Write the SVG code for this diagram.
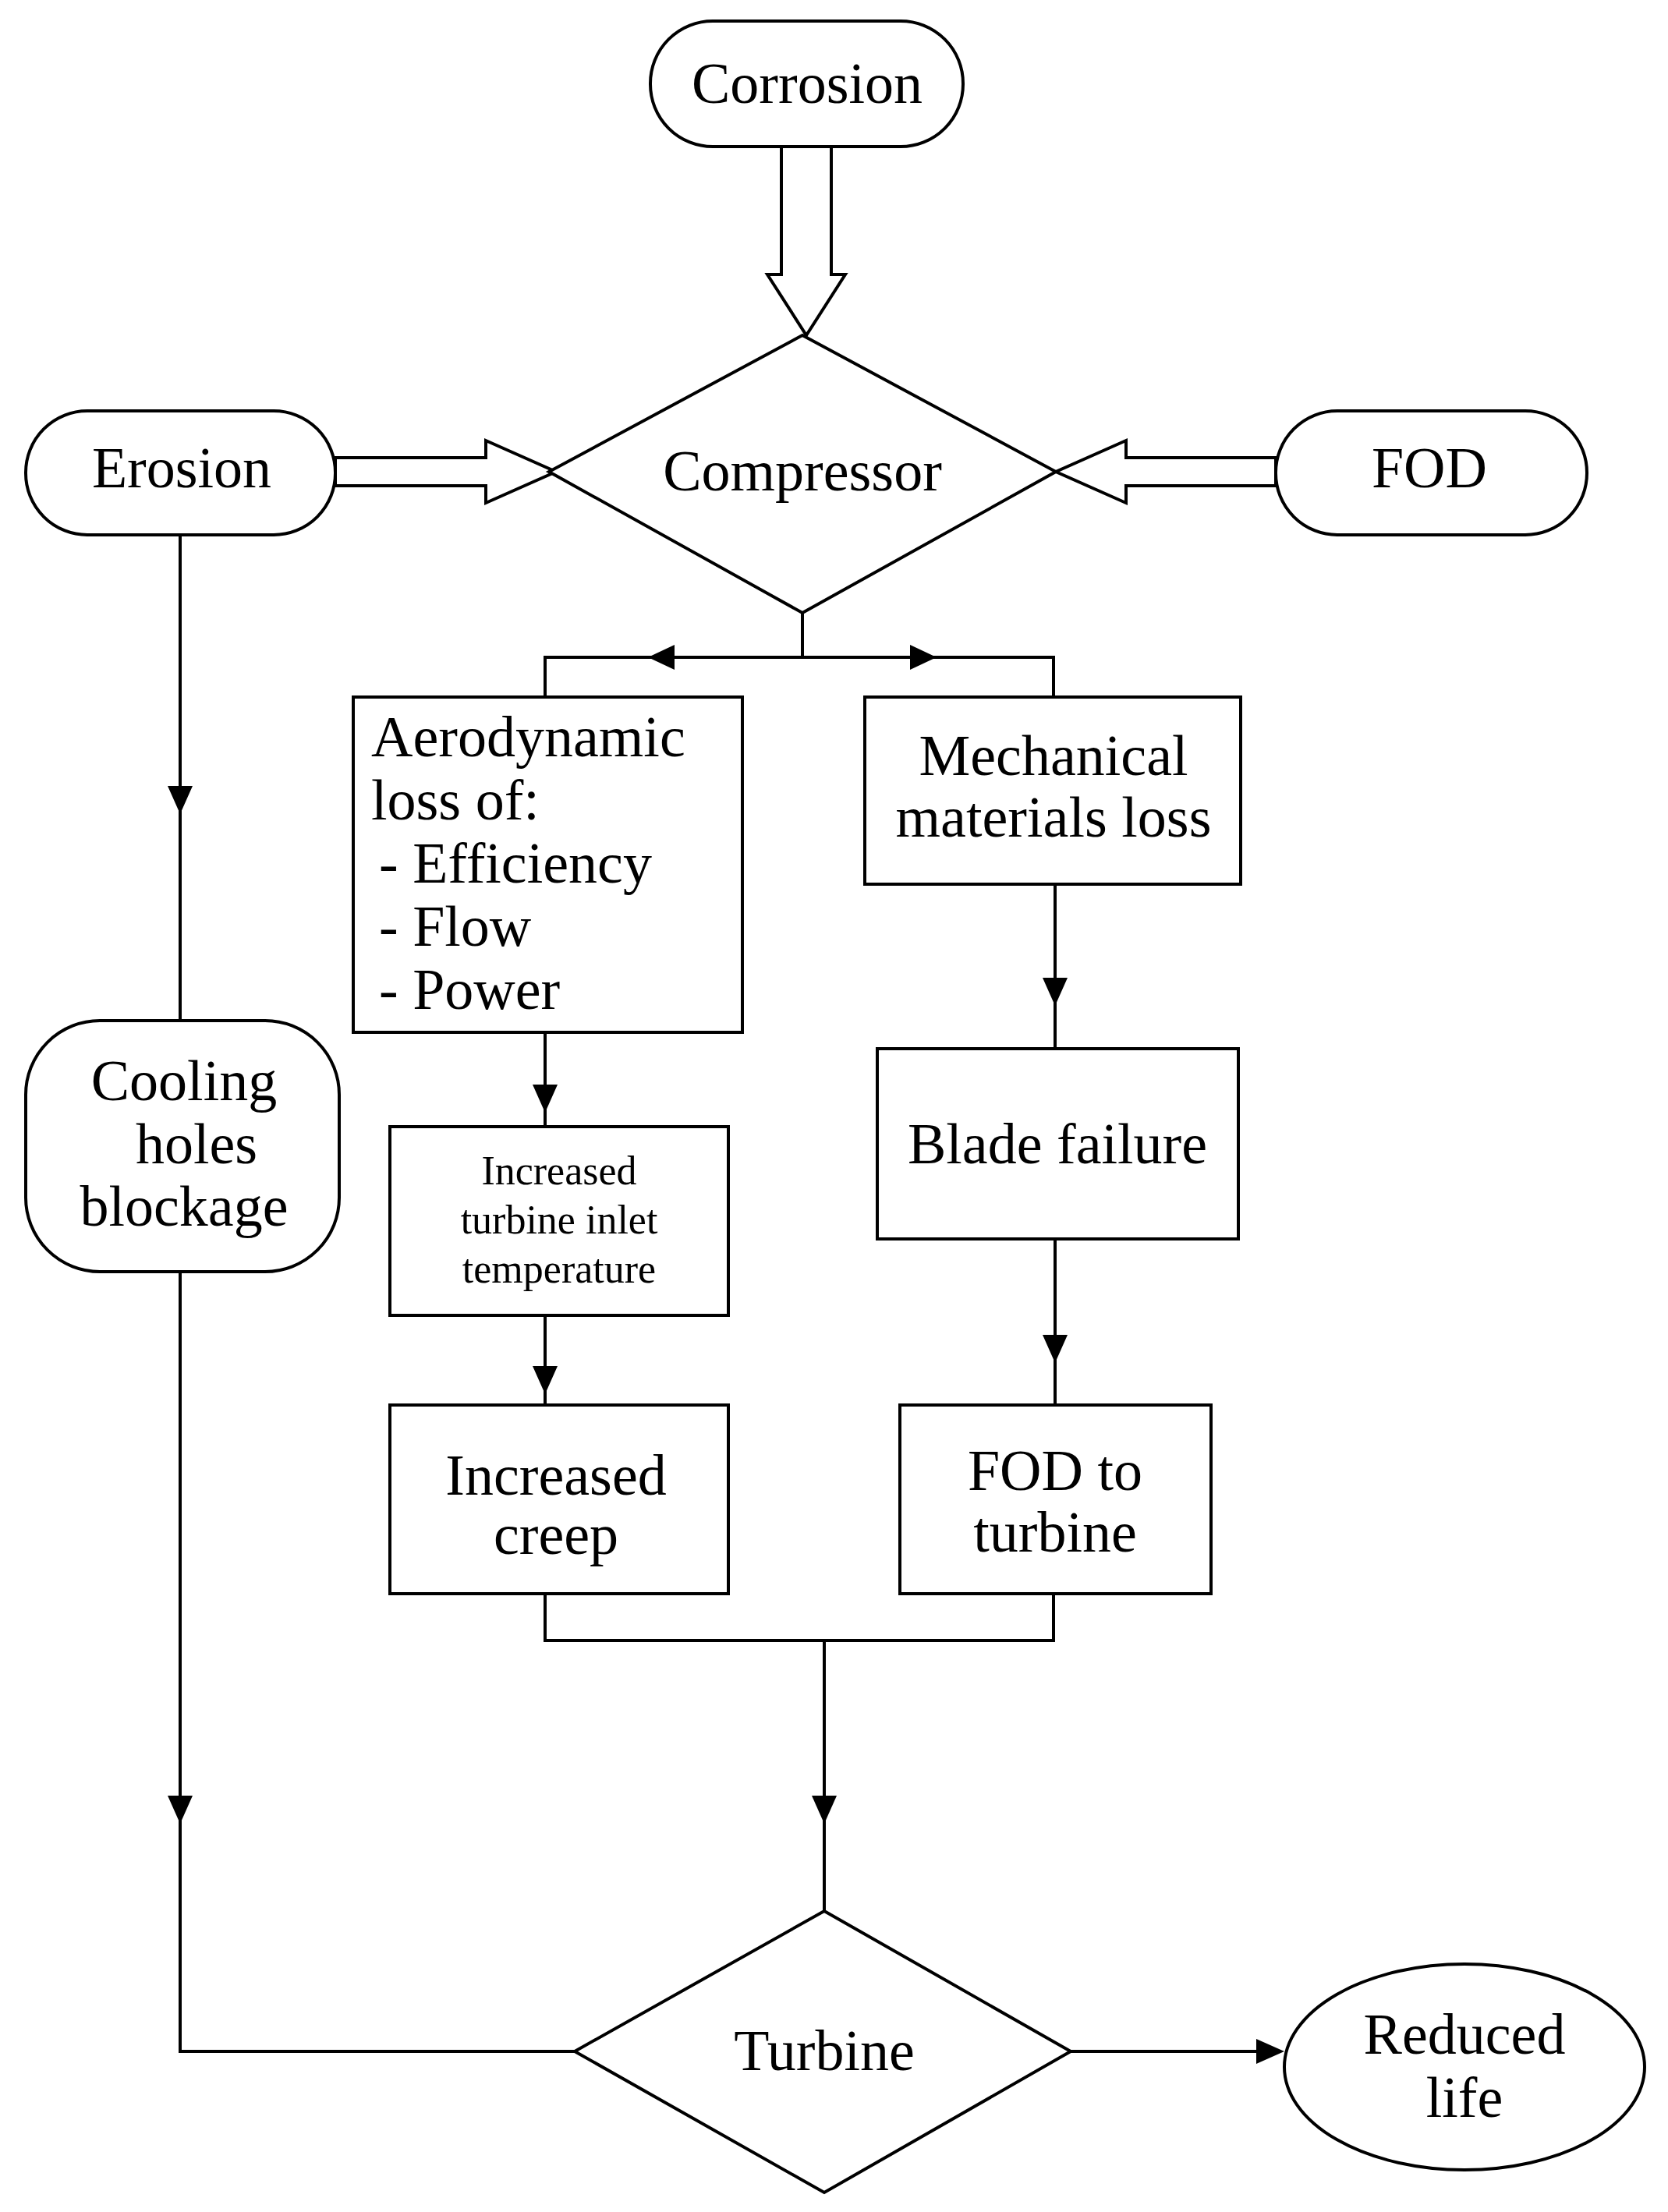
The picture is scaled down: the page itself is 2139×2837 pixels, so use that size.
<svg xmlns="http://www.w3.org/2000/svg" width="2139" height="2837" viewBox="0 0 2139 2837">
<style>
.s{fill:#fff;stroke:#000;stroke-width:4}
.l{fill:none;stroke:#000;stroke-width:4}
.t{font-family:"Liberation Serif","Times New Roman",serif;font-size:74px;fill:#000;text-anchor:middle}
.sm{font-size:52px}
</style>
<rect width="2139" height="2837" fill="#fff"/>
<g id="connectors">
<path class="s" d="M1002,188V352H984L1034,430L1084,352H1066V188Z"/>
<path class="s" d="M430,587H623V565L713,605L623,645V623H430Z"/>
<path class="s" d="M1636,587H1444V565L1354,605L1444,645V623H1636Z"/>
<path class="l" d="M1029,786V843M699,894V843H1351V894"/>
<path d="M831,843l34,-16v32z"/><path d="M1201,843l-34,-16v32z"/>
<path class="l" d="M699,1324V1445M699,1687V1802M1353,1134V1345M1353,1589V1802"/>
<path d="M699,1427l-16,-36h32z M699,1788l-16,-36h32z M1353,1290l-16,-36h32z M1353,1748l-16,-36h32z"/>
<path class="l" d="M699,2044V2104H1351V2044M1057,2104V2451"/>
<path d="M1057,2339l-16,-36h32z"/>
<path class="l" d="M231,686V1309M231,1631V2631H737"/>
<path d="M231,1044l-16,-36h32z M231,2339l-16,-36h32z"/>
<path class="l" d="M1373,2631H1620"/>
<path d="M1647,2631l-36,-16v32z"/>
</g>
<g id="corrosion"><rect class="s" x="834" y="27" width="401" height="161" rx="80"/><text class="t" x="1035" y="132">Corrosion</text></g>
<g id="compressor"><path class="s" d="M1029,430L1354,605L1029,786L704,605Z"/><text class="t" x="1029" y="629">Compressor</text></g>
<g id="erosion"><rect class="s" x="33" y="527" width="397" height="159" rx="79"/><text class="t" x="233" y="625">Erosion</text></g>
<g id="fod"><rect class="s" x="1636" y="527" width="399" height="159" rx="79"/><text class="t" x="1833" y="625">FOD</text></g>
<g id="aero"><rect class="s" x="453" y="894" width="499" height="430"/><text class="t" style="text-anchor:start" x="476"><tspan x="476" y="970">Aerodynamic</tspan><tspan x="476" y="1051">loss of:</tspan><tspan x="486" y="1132">- Efficiency</tspan><tspan x="486" y="1213">- Flow</tspan><tspan x="486" y="1294">- Power</tspan></text></g>
<g id="mech"><rect class="s" x="1109" y="894" width="482" height="240"/><text class="t" x="1351"><tspan x="1351" y="994">Mechanical</tspan><tspan x="1351" y="1073">materials loss</tspan></text></g>
<g id="itit"><rect class="s" x="500" y="1445" width="434" height="242"/><text class="t sm" x="717"><tspan x="717" y="1519">Increased</tspan><tspan x="717" y="1582">turbine inlet</tspan><tspan x="717" y="1645">temperature</tspan></text></g>
<g id="blade"><rect class="s" x="1125" y="1345" width="463" height="244"/><text class="t" x="1356" y="1492">Blade failure</text></g>
<g id="creep"><rect class="s" x="500" y="1802" width="434" height="242"/><text class="t" x="713"><tspan x="713" y="1917">Increased</tspan><tspan x="713" y="1993">creep</tspan></text></g>
<g id="fodt"><rect class="s" x="1154" y="1802" width="399" height="242"/><text class="t" x="1353"><tspan x="1353" y="1911">FOD to</tspan><tspan x="1353" y="1990">turbine</tspan></text></g>
<g id="cooling"><rect class="s" x="33" y="1309" width="402" height="322" rx="95"/><text class="t" x="236"><tspan x="236" y="1411">Cooling</tspan><tspan x="252" y="1492">holes</tspan><tspan x="236" y="1572">blockage</tspan></text></g>
<g id="turbine"><path class="s" d="M1057,2451L1373,2631L1057,2812L737,2631Z"/><text class="t" x="1057" y="2655">Turbine</text></g>
<g id="reduced"><ellipse class="s" cx="1878" cy="2651" rx="231" ry="132"/><text class="t" x="1878"><tspan x="1878" y="2634">Reduced</tspan><tspan x="1878" y="2715">life</tspan></text></g>
</svg>
